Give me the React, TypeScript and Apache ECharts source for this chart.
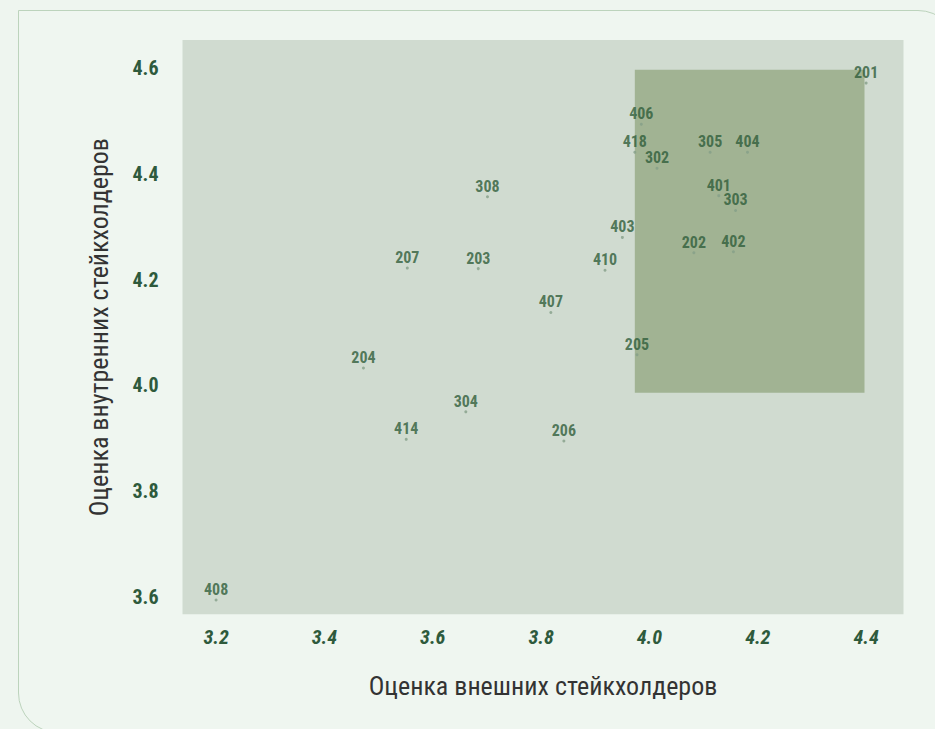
import React, { useEffect, useRef } from "react";
import * as echarts from "echarts";

const ids = ["201", "406", "418", "302", "305", "404", "401", "303", "403", "202", "402", "410", "308", "207", "203", "407", "204", "304", "414", "206", "205", "408"];
const externalScores = [4.40, 3.985, 3.973, 4.014, 4.112, 4.181, 4.128, 4.159, 3.95, 4.082, 4.155, 3.918, 3.701, 3.553, 3.684, 3.818, 3.472, 3.661, 3.551, 3.842, 3.977, 3.20];
const internalScores = [4.572, 4.494, 4.441, 4.411, 4.441, 4.441, 4.359, 4.331, 4.28, 4.251, 4.253, 4.218, 4.357, 4.222, 4.221, 4.138, 4.033, 3.95, 3.898, 3.895, 4.058, 3.594];
const xTicks = [3.2, 3.4, 3.6, 3.8, 4.0, 4.2, 4.4];
const yTicks = [3.6, 3.8, 4.0, 4.2, 4.4, 4.6];
const highlightX = [3.973, 4.397];
const highlightY = [3.986, 4.597];
const xRange = [3.138, 4.469];
const yRange = [3.567, 4.6535];
const xName = "Оценка внешних стейкхолдеров";
const yName = "Оценка внутренних стейкхолдеров";

const condensed = "'Roboto Condensed', 'DejaVu Sans Condensed', 'Liberation Sans Narrow', Roboto, sans-serif";

export default function App() {
  const ref = useRef<HTMLDivElement>(null);
  useEffect(() => {
    if (!ref.current) return;
    const chart = echarts.init(ref.current, undefined, { renderer: "svg" });
    const data = ids.map((id, i) => ({ name: id, value: [externalScores[i], internalScores[i]] }));
    chart.setOption({
      animation: false,
      grid: {
        left: 182.5,
        top: 40,
        width: 721,
        height: 574.3,
        show: true,
        backgroundColor: "#d0dbd0",
        borderWidth: 0,
      },
      xAxis: {
        type: "value",
        min: xRange[0],
        max: xRange[1],
        name: xName,
        nameLocation: "middle",
        nameGap: 59,
        nameTextStyle: { fontSize: 26, color: "#333", fontFamily: condensed },
        axisLine: { show: false },
        axisTick: { show: false },
        splitLine: { show: false },
        axisLabel: {
          customValues: xTicks,
          formatter: (v: number) => v.toFixed(1),
          fontSize: 20,
          fontWeight: "bold",
          fontStyle: "italic",
          color: "#2e5a3c",
          margin: 12.5,
          fontFamily: condensed,
        },
      },
      yAxis: {
        type: "value",
        min: yRange[0],
        max: yRange[1],
        name: yName,
        nameLocation: "middle",
        nameGap: 71,
        nameTextStyle: { fontSize: 26, color: "#333", fontFamily: condensed },
        axisLine: { show: false },
        axisTick: { show: false },
        splitLine: { show: false },
        axisLabel: {
          customValues: yTicks,
          formatter: (v: number) => v.toFixed(1),
          fontSize: 20,
          fontWeight: "bold",
          color: "#2e5a3c",
          margin: 24,
          fontFamily: condensed,
        },
      },
      series: [
        {
          type: "scatter",
          clip: false,
          symbolSize: 3,
          itemStyle: { color: "#849f88" },
          label: {
            show: true,
            position: "top",
            distance: 1,
            formatter: "{b}",
            fontSize: 16,
            fontWeight: "bold",
            color: "#2f5d3a",
            fontFamily: condensed,
          },
          data,
          markArea: {
            silent: true,
            itemStyle: { color: "#a1b393", opacity: 1 },
            data: [[{ coord: [highlightX[0], highlightY[1]] }, { coord: [highlightX[1], highlightY[0]] }]],
          },
          z: 3,
        },
      ],
    });
    return () => chart.dispose();
  }, []);
  return (
    <div style={{ position: "fixed", inset: 0, background: "#eef5ef", overflow: "hidden" }}>
      <div
        style={{
          position: "absolute",
          left: 18,
          top: 10,
          width: 940,
          height: 723,
          border: "1.5px solid #bcd3bc",
          borderRadius: "0 40px 0 40px",
          background: "#eff6f0",
          boxSizing: "border-box",
        }}
      />
      <div ref={ref} style={{ position: "absolute", left: 0, top: 0, width: 935, height: 729 }} />
    </div>
  );
}
